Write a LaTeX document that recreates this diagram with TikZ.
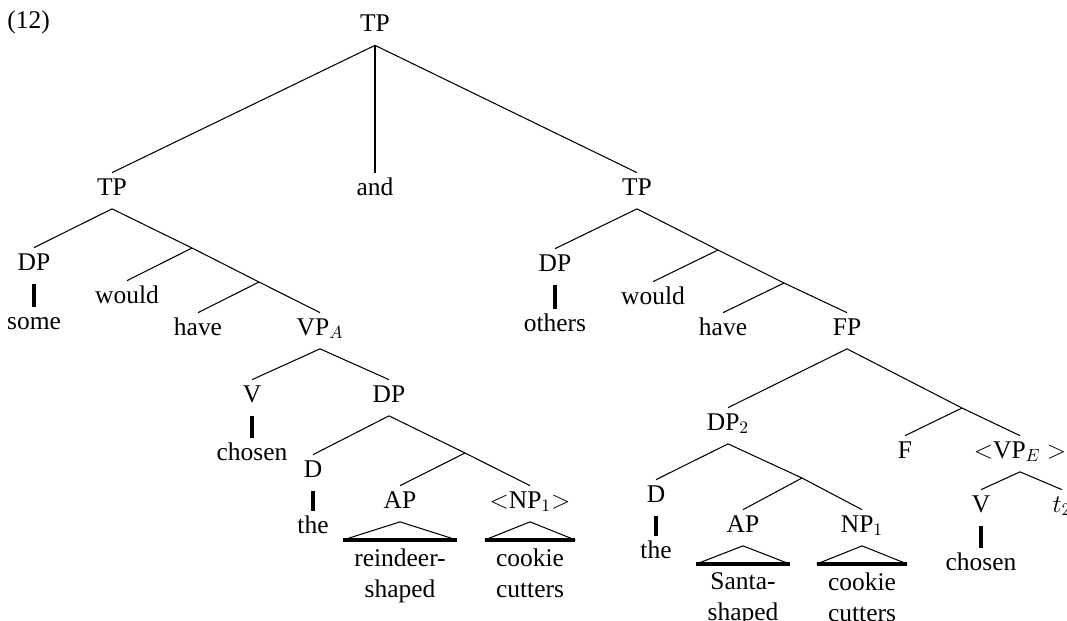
\documentclass[tikz,border=0pt]{standalone}
\usepackage{fontspec}
\setmainfont{Liberation Serif}

\newcommand\treefont{\fontsize{14.5}{18}\selectfont}

\begin{document}
\begin{tikzpicture}[x=0.02cm,y=-0.02cm,
  cat/.style={inner sep=0pt,anchor=base,text height=0.44cm,text depth=0.27cm,font=\treefont},
  roof/.style={align=center,anchor=north,inner xsep=0.22cm,inner ysep=0.16cm,font=\treefont},
  branch/.style={line width=0.6pt},
  unary/.style={line width=1.8pt}]
  \useasboundingbox (0,0) rectangle (1067,620);
  \node[anchor=base west,inner sep=0pt,font=\treefont] (exno) at (7,28) {(12)};
  % top level coordination
  \node[cat] (root) at (375,31.5) {TP};
  \node[cat] (ltp) at (112,195) {TP};
  \node[cat] (and) at (375,195) {and};
  \node[cat] (rtp) at (637,195) {TP};
  \draw[branch] (root.south) -- (ltp.north);
  \draw[branch] (root.south) -- (rtp.north);
  \draw[line width=1.2pt] (root.south) -- (and.north);

  % left conjunct
  \node[cat] (ldp) at (34,270) {DP};
  \node[cat] (lsome) at (34,329) {some};
  \coordinate (lb1) at (192,248);
  \node[cat] (lwould) at (127,303) {would};
  \coordinate (lb2) at (259,282);
  \node[cat] (lhave) at (198,335) {have};
  \node[cat] (lvp) at (320,335) {VP$_A$};
  \draw[branch] (ltp.south) -- (ldp.north);
  \draw[branch] (ltp.south) -- (lb1) -- (lb2) -- (lvp.north);
  \draw[branch] (lb1) -- (lwould.north);
  \draw[branch] (lb2) -- (lhave.north);
  \draw[unary] (ldp.south) -- (lsome.north);

  \node[cat] (lv) at (252,402) {V};
  \node[cat] (lchosen) at (252,460) {chosen};
  \node[cat] (lobj) at (389,402) {DP};
  \draw[branch] (lvp.south) -- (lv.north);
  \draw[branch] (lvp.south) -- (lobj.north);
  \draw[unary] (lv.south) -- (lchosen.north);

  \node[cat] (ld) at (313,477) {D};
  \node[cat] (lthe) at (313,533) {the};
  \coordinate (lb3) at (465,453);
  \node[cat] (lap) at (400,508) {AP};
  \node[cat] (lnp) at (530,508) {$<$NP$_1$$>$};
  \draw[branch] (lobj.south) -- (ld.north);
  \draw[branch] (lobj.south) -- (lb3) -- (lnp.north);
  \draw[branch] (lb3) -- (lap.north);
  \draw[unary] (ld.south) -- (lthe.north);

  \node[roof] (lapr) at (400,540) {reindeer-\\shaped};
  \node[roof] (lnpr) at (530,540) {cookie\\cutters};
  \draw[branch] (lapr.north west) -- (lap.south) -- (lapr.north east);
  \draw[unary] (lapr.north west) -- (lapr.north east);
  \draw[branch] (lnpr.north west) -- (lnp.south) -- (lnpr.north east);
  \draw[unary] (lnpr.north west) -- (lnpr.north east);

  % right conjunct
  \node[cat] (rdp) at (555,271) {DP};
  \node[cat] (rothers) at (555,331) {others};
  \coordinate (rb1) at (718,250);
  \node[cat] (rwould) at (653,304) {would};
  \coordinate (rb2) at (784,283);
  \node[cat] (rhave) at (723,335) {have};
  \node[cat] (rfp) at (847,335) {FP};
  \draw[branch] (rtp.south) -- (rdp.north);
  \draw[branch] (rtp.south) -- (rb1) -- (rb2) -- (rfp.north);
  \draw[branch] (rb1) -- (rwould.north);
  \draw[branch] (rb2) -- (rhave.north);
  \draw[unary] (rdp.south) -- (rothers.north);

  \node[cat] (rdp2) at (728,430) {DP$_2$};
  \coordinate (rb3) at (962,408);
  \node[cat] (rf) at (905,458) {F};
  \node[cat] (rvp) at (1020,458) {$<$VP$_E$ $>$};
  \draw[branch] (rfp.south) -- (rdp2.north);
  \draw[branch] (rfp.south) -- (rb3) -- (rvp.north);
  \draw[branch] (rb3) -- (rf.north);

  \node[cat] (rv) at (981,512) {V};
  \node[cat] (rt) at (1062,512) {$t_2$};
  \node[cat] (rchosen) at (981,570) {chosen};
  \draw[branch] (rvp.south) -- (rv.north);
  \draw[branch] (rvp.south) -- (rt.north);
  \draw[unary] (rv.south) -- (rchosen.north);

  \node[cat] (rd) at (656,502) {D};
  \node[cat] (rthe) at (656,558) {the};
  \coordinate (rb4) at (802,478);
  \node[cat] (rap) at (743,532) {AP};
  \node[cat] (rnp) at (862,532) {NP$_1$};
  \draw[branch] (rdp2.south) -- (rd.north);
  \draw[branch] (rdp2.south) -- (rb4) -- (rnp.north);
  \draw[branch] (rb4) -- (rap.north);
  \draw[unary] (rd.south) -- (rthe.north);

  \node[roof] (rapr) at (743,564) {Santa-\\shaped};
  \node[roof] (rnpr) at (862,564) {cookie\\cutters};
  \draw[branch] (rapr.north west) -- (rap.south) -- (rapr.north east);
  \draw[unary] (rapr.north west) -- (rapr.north east);
  \draw[branch] (rnpr.north west) -- (rnp.south) -- (rnpr.north east);
  \draw[unary] (rnpr.north west) -- (rnpr.north east);
\end{tikzpicture}
\end{document}
